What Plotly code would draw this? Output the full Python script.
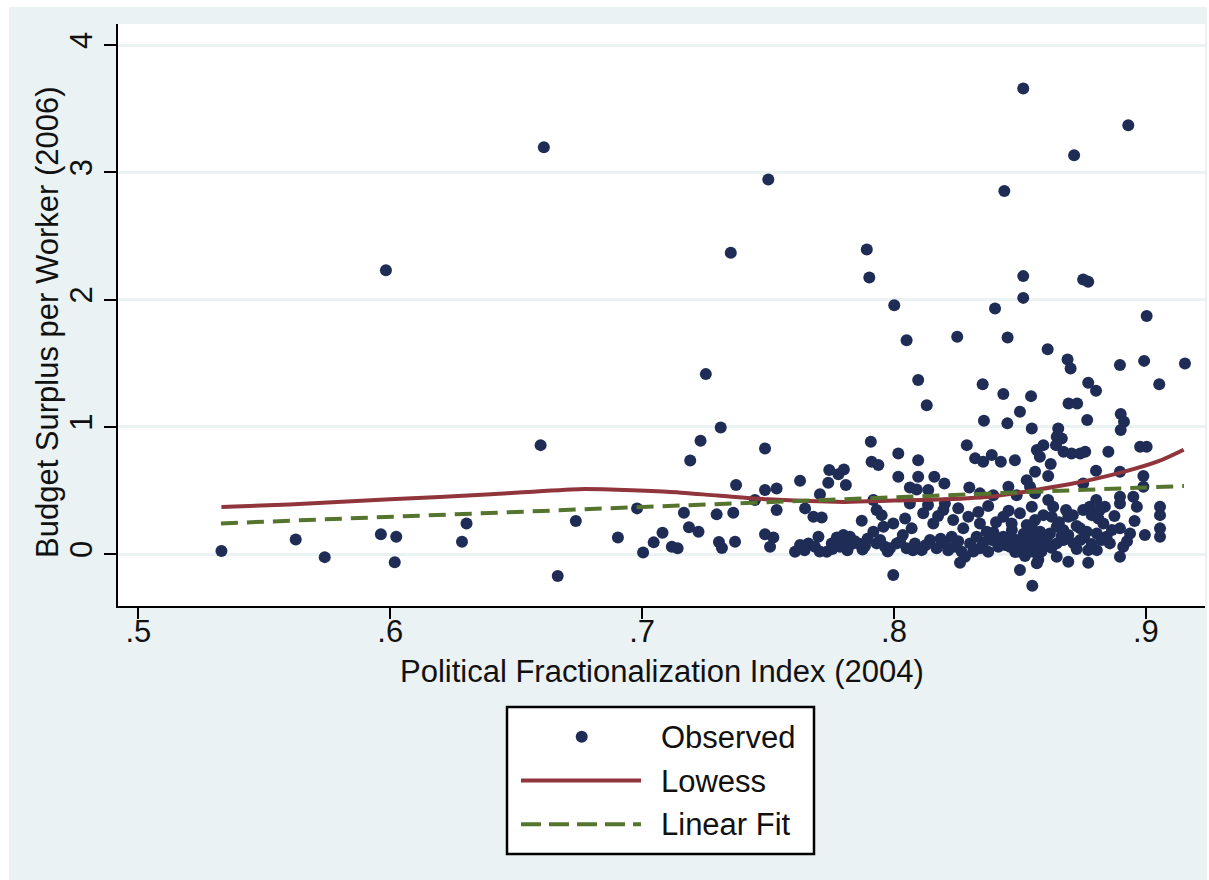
import plotly.graph_objects as go

# ---- data -------------------------------------------------------------
frac_index = [
    0.533, 0.5625, 0.574, 0.5963, 0.5983, 0.6024, 0.6018, 0.6285, 0.6303, 0.6597,
    0.661, 0.6665, 0.6737, 0.6904, 0.698, 0.7004, 0.7046, 0.7081, 0.7118, 0.7141,
    0.7166, 0.7186, 0.7191, 0.7232, 0.7224,
    0.7312, 0.7488, 0.7373, 0.7296, 0.7362, 0.7305, 0.7317, 0.7369, 0.7448, 0.7488,
    0.7534, 0.7534, 0.7488, 0.7521, 0.7508, 0.7627, 0.7647, 0.768, 0.7713, 0.7706,
    0.7743, 0.7779, 0.7801, 0.7739, 0.7809, 0.7607, 0.7627, 0.766, 0.7686, 0.77,
    0.7733, 0.7753, 0.7773, 0.7799, 0.7825, 0.7786, 0.7832, 0.7865, 0.7885, 0.7872,
    0.7908, 0.7911, 0.7938, 0.7918, 0.7931, 0.7951, 0.7958, 0.7918, 0.7931, 0.7964,
    0.7997, 0.7997, 0.8017, 0.8017, 0.8011,
    0.813, 0.8357, 0.845, 0.85, 0.8547, 0.8567, 0.8289, 0.8096, 0.8096, 0.816,
    0.82, 0.8063, 0.809, 0.8136, 0.8299, 0.8322, 0.8354, 0.8388, 0.8424, 0.848,
    0.8341, 0.8394, 0.8454, 0.8487, 0.854, 0.856, 0.8527, 0.8063, 0.8202, 0.8135,
    0.8374, 0.8044, 0.807, 0.8116, 0.8156, 0.8196, 0.8235, 0.8295, 0.8341, 0.8275,
    0.8368, 0.8434, 0.8467, 0.85, 0.8547, 0.8527, 0.856, 0.7984, 0.8024, 0.805,
    0.8083, 0.811, 0.8143, 0.8169, 0.8202, 0.8229, 0.8242, 0.8269, 0.8262, 0.8282,
    0.8302, 0.8328, 0.8341, 0.8374, 0.8388, 0.8414, 0.8434, 0.846, 0.8487, 0.85,
    0.8527, 0.8547, 0.8553, 0.85, 0.8567, 0.8549, 0.8441, 0.8481, 0.852, 0.8572,
    0.858, 0.8468,
    0.8693, 0.8727, 0.89, 0.8913, 0.89, 0.8767, 0.8652, 0.8646, 0.8666, 0.8643,
    0.8593, 0.8673, 0.8705, 0.8739, 0.8759, 0.8851, 0.8977, 0.9003, 0.8579, 0.8622,
    0.8612, 0.8802, 0.8897, 0.899, 0.8751, 0.856, 0.8612, 0.8632, 0.8593, 0.8626,
    0.8803, 0.8837, 0.8897, 0.8897, 0.895, 0.8964, 0.9056, 0.9056, 0.899, 0.8683,
    0.871, 0.8751, 0.8777, 0.8817, 0.8692, 0.8785, 0.8811, 0.8831, 0.8547, 0.858,
    0.8619, 0.8646, 0.8672, 0.8692, 0.8739, 0.8765, 0.8805, 0.8844, 0.8897, 0.8937,
    0.8996, 0.9056, 0.9056, 0.8553, 0.8593, 0.8646, 0.8673, 0.8713, 0.8739, 0.8805,
    0.8857, 0.891, 0.8573, 0.8646, 0.8692, 0.8771, 0.8897, 0.8771, 0.9155,
    0.8513, 0.893, 0.8715, 0.7501, 0.8438, 0.7352, 0.7892, 0.7902, 0.8513, 0.8751,
    0.8771, 0.8513, 0.8001, 0.8401, 0.9003, 0.805, 0.8251, 0.8451, 0.861, 0.8689,
    0.8701, 0.8897, 0.8993, 0.7253, 0.8096, 0.8352, 0.8434, 0.8544, 0.8771, 0.8802,
    0.9053,
    0.7645, 0.7705, 0.7755, 0.7795, 0.7815, 0.7845, 0.7875, 0.7895, 0.7945, 0.7975,
    0.8035, 0.8075, 0.8125, 0.8185, 0.8215, 0.8255, 0.8315, 0.8355, 0.8395, 0.8425,
    0.8455, 0.8495, 0.8515, 0.8535, 0.8565, 0.8585, 0.8605, 0.8625, 0.8665, 0.8725,
    0.8755, 0.8785, 0.8825, 0.8865, 0.8925, 0.8955, 0.8875, 0.8655, 0.8725, 0.8175,
    0.8255, 0.8405, 0.8455, 0.8335,
]

surplus = [
    0.024, 0.115, -0.024, 0.155, 2.231, 0.136, -0.065, 0.097, 0.241, 0.856,
    3.197, -0.173, 0.259, 0.131, 0.359, 0.013, 0.092, 0.167, 0.057, 0.045,
    0.324, 0.21, 0.736, 0.89, 0.175,
    0.995, 0.83, 0.542, 0.312, 0.324, 0.094, 0.047, 0.097, 0.424, 0.503,
    0.516, 0.346, 0.155, 0.131, 0.057, 0.576, 0.359, 0.293, 0.288, 0.471,
    0.66, 0.628, 0.665, 0.56, 0.542, 0.018, 0.071, 0.084, 0.057, 0.136,
    0.018, 0.084, 0.131, 0.149, 0.136, 0.057, 0.079, 0.079, 0.063, 0.262,
    0.882, 0.725, 0.699, 0.424, 0.346, 0.306, 0.214, 0.175, 0.084, 0.057,
    0.241, -0.165, 0.791, 0.607, 0.084,
    1.17, 1.047, 1.027, 1.118, 0.987, 0.817, 0.856, 0.738, 0.607, 0.607,
    0.555, 0.524, 0.508, 0.503, 0.524, 0.752, 0.725, 0.778, 0.725, 0.738,
    0.477, 0.463, 0.529, 0.463, 0.529, 0.647, 0.581, 0.398, 0.398, 0.385,
    0.377, 0.28, 0.202, 0.32, 0.241, 0.346, 0.267, 0.293, 0.241, 0.202,
    0.175, 0.293, 0.241, 0.32, 0.372, 0.228, 0.267, 0.045, 0.097, 0.045,
    0.084, 0.031, 0.11, 0.045, 0.084, 0.136, 0.057, 0.018, -0.068, -0.021,
    0.084, 0.136, 0.045, 0.018, 0.11, 0.057, 0.136, 0.057, 0.11, 0.018,
    0.084, 0.136, 0.018, -0.126, -0.073, -0.249, 0.071, 0.016, -0.016, 0.071,
    0.149, 0.189,
    1.184, 1.184, 1.1, 1.039, 0.974, 1.053, 0.987, 0.921, 0.909, 0.856,
    0.856, 0.804, 0.791, 0.791, 0.804, 0.804, 0.843, 0.843, 0.764, 0.707,
    0.613, 0.654, 0.647, 0.613, 0.555, 0.477, 0.424, 0.372, 0.306, 0.293,
    0.424, 0.372, 0.45, 0.398, 0.45, 0.372, 0.372, 0.306, 0.529, 0.346,
    0.306, 0.346, 0.372, 0.346, 0.293, 0.306, 0.28, 0.241, 0.214, 0.175,
    0.162, 0.214, 0.189, 0.149, 0.202, 0.175, 0.162, 0.136, 0.202, 0.162,
    0.149, 0.202, 0.136, 0.084, 0.057, 0.084, 0.11, 0.084, 0.11, 0.031,
    0.084, 0.057, -0.047, -0.021, -0.06, -0.068, -0.021, 0.031, 1.498,
    3.658, 3.37, 3.134, 2.943, 2.852, 2.367, 2.394, 2.174, 2.184, 2.158,
    2.139, 2.013, 1.956, 1.93, 1.87, 1.681, 1.707, 1.702, 1.61, 1.529,
    1.459, 1.485, 1.518, 1.414, 1.367, 1.335, 1.257, 1.241, 1.346, 1.283,
    1.335,
    0.03, 0.02, 0.04, 0.11, 0.03, 0.1, 0.035, 0.12, 0.11, 0.02,
    0.15, 0.03, 0.07, 0.12, 0.03, 0.1, 0.02, 0.09, 0.17, 0.1,
    0.12, 0.06, 0.16, 0.04, 0.1, 0.02, 0.12, 0.05, 0.14, 0.04,
    0.13, 0.08, 0.11, 0.19, 0.1, 0.26, 0.3, 0.25, 0.22, 0.3,
    0.36, 0.25, 0.34, 0.33,
]

# Lowess smoother
lowess_x = [0.533, 0.56, 0.60, 0.64, 0.675, 0.69, 0.71, 0.73, 0.75, 0.78,
            0.80, 0.82, 0.84, 0.855, 0.87, 0.89, 0.905, 0.915]
lowess_y = [0.37, 0.39, 0.43, 0.47, 0.51, 0.505, 0.49, 0.46, 0.43, 0.41,
            0.42, 0.43, 0.455, 0.50, 0.55, 0.64, 0.73, 0.82]

# Linear fit endpoints
fit_x = [0.5328, 0.9151]
fit_y = [0.241, 0.535]

x_ticks = [0.5, 0.6, 0.7, 0.8, 0.9]
x_tick_text = [".5", ".6", ".7", ".8", ".9"]
y_ticks = [0, 1, 2, 3, 4]
y_tick_text = ["0", "1", "2", "3", "4"]

legend_labels = ["Observed", "Lowess", "Linear Fit"]

# ---- styling ----------------------------------------------------------
W, H = 1209, 880
ML, MR, MT, MB = 118, 4, 24, 274
PW, PH = W - ML - MR, H - MT - MB

FONT = "Arial, Liberation Sans, sans-serif"
FS = 31
NAVY = "#1F2D56"
MAROON = "#90353B"
GREEN = "#55752F"
OUTER = "#EAF2F3"
INK = "#111111"


def px_x(px):
    return (px - ML) / PW


def px_y(py):
    return (H - MB - py) / PH


fig = go.Figure()

fig.add_trace(go.Scatter(
    x=frac_index, y=surplus, mode="markers", name=legend_labels[0],
    marker=dict(color=NAVY, size=12, line=dict(width=0)),
))
fig.add_trace(go.Scatter(
    x=lowess_x, y=lowess_y, mode="lines", name=legend_labels[1],
    line=dict(color=MAROON, width=4, shape="spline", smoothing=0.8),
))
fig.add_trace(go.Scatter(
    x=fit_x, y=fit_y, mode="lines", name=legend_labels[2],
    line=dict(color=GREEN, width=4, dash="17px,9px"),
))

shapes = [
    # graph region background
    dict(type="rect", xref="paper", yref="paper", layer="below",
         x0=px_x(9), x1=px_x(1207), y0=px_y(880), y1=px_y(7),
         fillcolor=OUTER, line=dict(width=0)),
    # plot region
    dict(type="rect", xref="paper", yref="paper", layer="below",
         x0=0, x1=1, y0=0, y1=1, fillcolor="white", line=dict(width=0)),
    # legend box
    dict(type="rect", xref="paper", yref="paper",
         x0=px_x(507), x1=px_x(814), y0=px_y(854), y1=px_y(707),
         fillcolor="white", line=dict(color="black", width=2.5)),
    # legend keys
    dict(type="circle", xref="paper", yref="paper",
         x0=px_x(575.7), x1=px_x(587.7), y0=px_y(742.7), y1=px_y(730.7),
         fillcolor=NAVY, line=dict(width=0)),
    dict(type="line", xref="paper", yref="paper",
         x0=px_x(521), x1=px_x(641), y0=px_y(780.5), y1=px_y(780.5),
         line=dict(color=MAROON, width=4)),
    dict(type="line", xref="paper", yref="paper",
         x0=px_x(521), x1=px_x(641), y0=px_y(824.3), y1=px_y(824.3),
         line=dict(color=GREEN, width=4, dash="20px,8px")),
]

annotations = [
    dict(text="Political Fractionalization Index (2004)", xref="paper", yref="paper",
         x=px_x(661.5), y=px_y(671), xanchor="center", yanchor="middle",
         showarrow=False, font=dict(family=FONT, size=FS, color=INK)),
    dict(text="Budget Surplus per Worker (2006)", xref="paper", yref="paper",
         x=px_x(47), y=px_y(322), xanchor="center", yanchor="middle", textangle=-90,
         showarrow=False, font=dict(family=FONT, size=FS, color=INK)),
]
for label, py in zip(legend_labels, [737, 781, 824]):
    annotations.append(dict(
        text=label, xref="paper", yref="paper", x=px_x(659), y=px_y(py),
        xanchor="left", yanchor="middle", showarrow=False,
        font=dict(family=FONT, size=FS, color=INK)))

fig.update_layout(
    width=W, height=H,
    margin=dict(l=ML, r=MR, t=MT, b=MB, pad=0),
    paper_bgcolor="white", plot_bgcolor="rgba(0,0,0,0)",
    showlegend=False,
    shapes=shapes, annotations=annotations,
    font=dict(family=FONT, size=FS, color=INK),
)

fig.update_xaxes(
    range=[0.49194, 0.92346], tickvals=x_ticks, ticktext=x_tick_text,
    showgrid=False, zeroline=False,
    showline=True, linecolor="black", linewidth=2,
    ticks="outside", ticklen=11, tickwidth=2, tickcolor="black",
    ticklabelstandoff=-14,
    tickfont=dict(family=FONT, size=FS, color=INK),
)
fig.update_yaxes(
    range=[-0.408, 4.165], tickvals=y_ticks, ticktext=y_tick_text,
    showgrid=True, gridcolor=OUTER, gridwidth=3, zeroline=False,
    showline=True, linecolor="black", linewidth=2,
    ticks="outside", ticklen=12, tickwidth=2, tickcolor="black",
    tickangle=-90,
    tickfont=dict(family=FONT, size=FS, color=INK),
)

fig.write_html("out.html")
